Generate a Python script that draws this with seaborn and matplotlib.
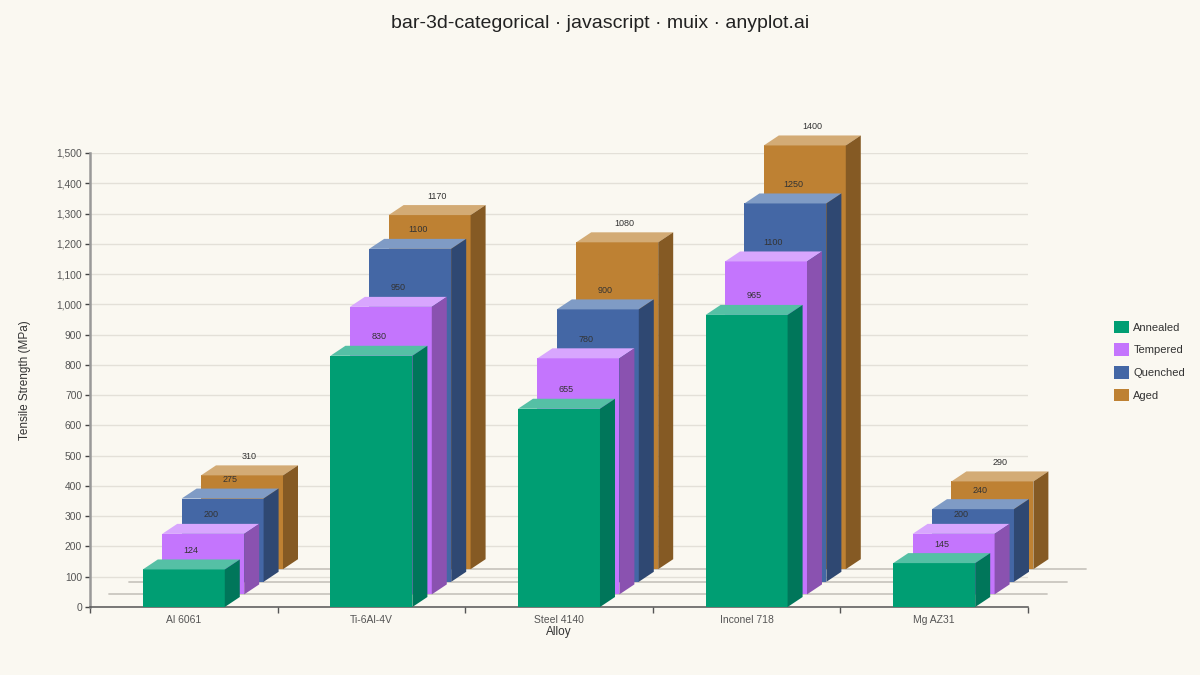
import numpy as np
import pandas as pd
import matplotlib
matplotlib.use("Agg")
import matplotlib.pyplot as plt
import seaborn as sns
from matplotlib.transforms import ScaledTranslation, IdentityTransform
from matplotlib.patches import Polygon, Patch
from matplotlib.ticker import FuncFormatter, FixedLocator

# ---------------- data ----------------
alloys = ["Al 6061", "Ti-6Al-4V", "Steel 4140", "Inconel 718", "Mg AZ31"]
series = ["Annealed", "Tempered", "Quenched", "Aged"]
annealed = [124, 830, 655, 965, 145]
tempered = [200, 950, 780, 1100, 200]
quenched = [275, 1100, 900, 1250, 240]
aged = [310, 1170, 1080, 1400, 290]
yticks = list(range(0, 1501, 100))

front_colors = ["#009E73", "#C475FD", "#4467A5", "#BE8133"]
top_colors = ["#55C0A5", "#D8A6FE", "#7F9BC5", "#D3AB75"]
side_colors = ["#00765A", "#8A52B0", "#2F4872", "#855A24"]

BG = "#FAF8F1"
DPI = 100
SER = (19.4, 12.6)   # px shift per series (depth rows)
DEP = (15.0, 10.0)   # px depth of each bar
W = 0.437

sns.set_theme(style="white")
plt.rcParams["font.family"] = ["Liberation Sans", "DejaVu Sans"]

fig = plt.figure(figsize=(12, 6.75), dpi=DPI, facecolor=BG)
ax = fig.add_axes([90 / 1200, 68 / 675, 938 / 1200, 454 / 675])
ax.set_facecolor(BG)

values = [annealed, tempered, quenched, aged]
df = pd.DataFrame({
    "alloy": alloys * len(series),
    "treatment": np.repeat(series, len(alloys)),
    "tensile": np.concatenate(values),
})


def off(k, extra=(0.0, 0.0)):
    return ax.transData + ScaledTranslation((k * SER[0] + extra[0]) / DPI,
                                            (k * SER[1] + extra[1]) / DPI,
                                            fig.dpi_scale_trans)


bars = {}
for k in reversed(range(len(series))):
    n0 = len(ax.patches)
    sub = df[df.treatment == series[k]]
    sns.barplot(data=sub, x="alloy", y="tensile", order=alloys,
                color=front_colors[k], saturation=1, width=W,
                errorbar=None, linewidth=0, ax=ax)
    new = ax.patches[n0:]
    for p in new:
        p.set_transform(off(k))
        p.set_zorder(10 - k)
        p.set_clip_on(False)
        p.set_edgecolor("none")
    bars[k] = new

ax.set_xlim(-0.5, len(alloys) - 0.5)
ax.set_ylim(0, 1500)

# 3D faces (computed from the bars after the scales are fixed)
for k in reversed(range(len(series))):
    tr = off(k)
    dx, dy = DEP
    for p in bars[k]:
        x0 = p.get_x()
        x1 = x0 + p.get_width()
        h = p.get_height()
        (tlx, tly), (trx, try_), (brx, bry) = tr.transform([(x0, h), (x1, h), (x1, 0)])
        top = Polygon([(tlx, tly), (trx, try_), (trx + dx, try_ + dy), (tlx + dx, tly + dy)],
                      closed=True, facecolor=top_colors[k], edgecolor="none",
                      transform=IdentityTransform(), zorder=10 - k, clip_on=False)
        side = Polygon([(brx, bry), (trx, try_), (trx + dx, try_ + dy), (brx + dx, bry + dy)],
                       closed=True, facecolor=side_colors[k], edgecolor="none",
                       transform=IdentityTransform(), zorder=10 - k, clip_on=False)
        fig.add_artist(top)
        fig.add_artist(side)
    # value labels
    for i, v in enumerate(values[k]):
        ax.text(i, v, f"{v}", transform=off(k, (DEP[0] / 2, 19)),
                ha="center", va="center", fontsize=6.5, color="#333333",
                zorder=30, clip_on=False)

# floor baselines for back rows
for k in range(1, len(series)):
    ax.plot([-0.5, len(alloys) - 0.5], [0, 0], transform=off(k),
            color="#CAC7C0", lw=1.3, zorder=1.5, clip_on=False)

# grid / axes styling
ax.yaxis.set_major_locator(FixedLocator(yticks))
ax.yaxis.set_major_formatter(FuncFormatter(lambda v, _: f"{int(v):,}"))
ax.yaxis.grid(True, color="#E3E0D8", lw=1)
ax.xaxis.grid(False)
ax.set_axisbelow(True)

for s in ["top", "right"]:
    ax.spines[s].set_visible(False)
ax.spines["left"].set_color("#999999")
ax.spines["left"].set_linewidth(1.8)
ax.spines["bottom"].set_color("#555555")
ax.spines["bottom"].set_linewidth(1.1)

ax.tick_params(axis="y", which="major", left=True, length=3.6, width=1,
               color="#444444", labelsize=7.4, labelcolor="#555555", pad=2)
ax.set_xticks(range(len(alloys)))
ax.set_xticklabels(alloys)
ax.set_xticks(np.arange(-0.5, len(alloys), 1.0), minor=True)
ax.tick_params(axis="x", which="major", length=0, labelsize=7.5,
               labelcolor="#555555", pad=6)
ax.tick_params(axis="x", which="minor", bottom=True, length=4, width=1,
               color="#555555")

ax.set_xlabel("Alloy", fontsize=8.5, color="#333333", va="center")
ax.xaxis.set_label_coords(0.5, (607 - 632) / 454)
ax.set_ylabel("Tensile Strength (MPa)", fontsize=8.5, color="#333333",
              va="center", ha="center")
ax.yaxis.set_label_coords((25 - 90) / 938, 0.5)

fig.text(0.5, 1 - 24 / 675, "bar-3d-categorical · javascript · muix · anyplot.ai",
         ha="center", va="center", fontsize=14, color="#222222")

handles = [Patch(facecolor=c, edgecolor="none") for c in front_colors]
fig.legend(handles, series, loc="center left",
           bbox_to_anchor=(1114 / 1200, 1 - 361 / 675), frameon=False,
           fontsize=8, handlelength=1.35, handleheight=1.35,
           handletextpad=0.4, labelspacing=0.92, borderpad=0,
           borderaxespad=0, labelcolor="#333333")

fig.savefig("out.png", dpi=DPI, facecolor=BG)
